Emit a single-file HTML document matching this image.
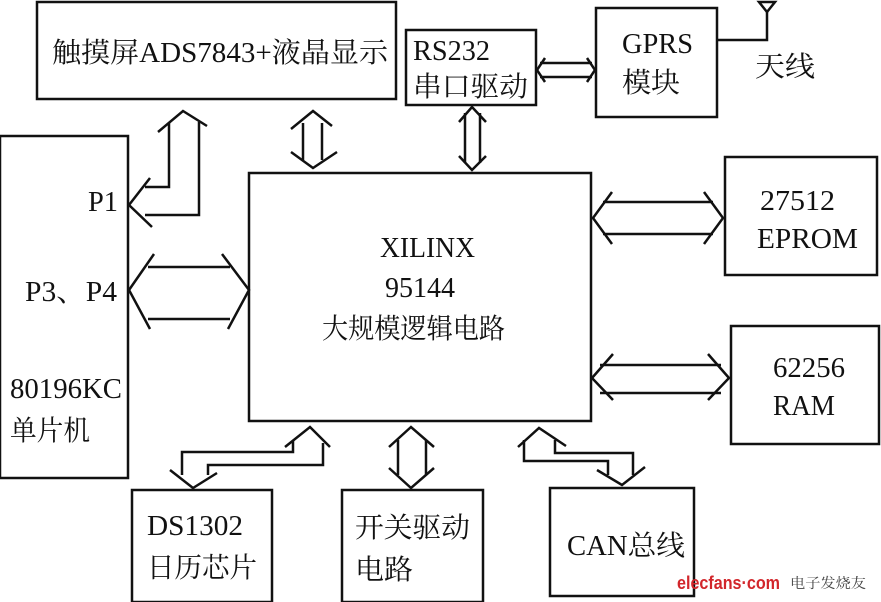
<!DOCTYPE html>
<html><head><meta charset="utf-8"><style>
html,body{margin:0;padding:0;background:#fff;width:881px;height:602px;overflow:hidden}
svg{display:block}
text{font-family:"Liberation Serif","Noto Serif CJK SC",serif;font-size:28px;fill:#111}
</style></head><body>
<svg width="881" height="602" viewBox="0 0 881 602">
<g fill="none" stroke="#111" stroke-width="2.5">
<rect x="37" y="2" width="359" height="97"/>
<rect x="406" y="30" width="130" height="75"/>
<rect x="596" y="8" width="121" height="109"/>
<rect x="0" y="136" width="128" height="342"/>
<rect x="249" y="173" width="342" height="248"/>
<rect x="725" y="157" width="152" height="118"/>
<rect x="731" y="326" width="148" height="118"/>
<rect x="132" y="490" width="140" height="112"/>
<rect x="342" y="490" width="141" height="112"/>
<rect x="550" y="488" width="144" height="108"/>
<polyline points="717,40 767,40 767,10"/>
<polygon points="759,2 775,2 767,12"/>
<polyline points="158,132 183,111 207,126"/>
<polyline points="169,123 169,187 145,187"/>
<polyline points="199,122 199,215 145,215"/>
<polyline points="150,178 129,205 152,227"/>
<polyline points="291,129 313,111 332,126"/>
<polyline points="291,152 313,168 337,152"/>
<line x1="303" y1="123" x2="303" y2="160"/><line x1="322" y1="123" x2="322" y2="160"/>
<polyline points="154,254 129,290 150,329"/>
<polyline points="222,254 249,290 228,329"/>
<line x1="148" y1="267" x2="230" y2="267"/><line x1="148" y1="319" x2="230" y2="319"/>
<polyline points="545,58 537,70 545,82"/>
<polyline points="587,58 595,70 587,82"/>
<line x1="540" y1="63" x2="592" y2="63"/><line x1="540" y1="77" x2="592" y2="77"/>
<polyline points="459,122 472,107 486,122"/>
<polyline points="459,156 472,170 486,156"/>
<line x1="465" y1="113" x2="465" y2="163"/><line x1="480" y1="113" x2="480" y2="163"/>
<polyline points="612,192 593,218 612,244"/>
<polyline points="704,192 723,218 704,244"/>
<line x1="603" y1="202" x2="713" y2="202"/><line x1="603" y1="234" x2="713" y2="234"/>
<polyline points="613,354 592,378 613,400"/>
<polyline points="708,354 729,378 708,400"/>
<line x1="600" y1="365" x2="721" y2="365"/><line x1="600" y1="393" x2="721" y2="393"/>
<polyline points="285,447 310,427 330,447"/>
<polyline points="293,441 293,452 182,452 182,475"/>
<polyline points="323,443 323,465 208,465 208,475"/>
<polyline points="170,470 193,488 217,473"/>
<polyline points="389,447 411,427 434,447"/>
<polyline points="389,468 411,488 434,468"/>
<line x1="398" y1="440" x2="398" y2="475"/><line x1="426" y1="440" x2="426" y2="475"/>
<polyline points="518,447 539,428 566,446"/>
<polyline points="524,440 524,461 608,461 608,475"/>
<polyline points="555,440 555,453 633,453 633,475"/>
<polyline points="597,470 622,485 645,467"/>
</g>
<text x="52" y="62" textLength="336" lengthAdjust="spacingAndGlyphs">触摸屏ADS7843+液晶显示</text>
<text x="413" y="60" textLength="77" lengthAdjust="spacingAndGlyphs">RS232</text>
<text x="413" y="96" textLength="115" lengthAdjust="spacingAndGlyphs">串口驱动</text>
<text x="622" y="53" textLength="71" lengthAdjust="spacingAndGlyphs">GPRS</text>
<text x="622" y="92" textLength="58" lengthAdjust="spacingAndGlyphs">模块</text>
<text x="755" y="76" textLength="60" lengthAdjust="spacingAndGlyphs">天线</text>
<text x="88" y="211" textLength="30" lengthAdjust="spacingAndGlyphs">P1</text>
<text x="25" y="301" textLength="92" lengthAdjust="spacingAndGlyphs">P3、P4</text>
<text x="10" y="398" textLength="112" lengthAdjust="spacingAndGlyphs">80196KC</text>
<text x="10" y="440" textLength="80" lengthAdjust="spacingAndGlyphs">单片机</text>
<text x="380" y="257" textLength="95" lengthAdjust="spacingAndGlyphs">XILINX</text>
<text x="385" y="297" textLength="70" lengthAdjust="spacingAndGlyphs">95144</text>
<text x="322" y="338" textLength="183" lengthAdjust="spacingAndGlyphs">大规模逻辑电路</text>
<text x="760" y="210" textLength="75" lengthAdjust="spacingAndGlyphs">27512</text>
<text x="757" y="248" textLength="101" lengthAdjust="spacingAndGlyphs">EPROM</text>
<text x="773" y="377" textLength="72" lengthAdjust="spacingAndGlyphs">62256</text>
<text x="773" y="415" textLength="62" lengthAdjust="spacingAndGlyphs">RAM</text>
<text x="147" y="535" textLength="96" lengthAdjust="spacingAndGlyphs">DS1302</text>
<text x="147" y="577" textLength="110" lengthAdjust="spacingAndGlyphs">日历芯片</text>
<text x="355" y="537" textLength="115" lengthAdjust="spacingAndGlyphs">开关驱动</text>
<text x="355" y="579" textLength="58" lengthAdjust="spacingAndGlyphs">电路</text>
<text x="567" y="555" textLength="118" lengthAdjust="spacingAndGlyphs">CAN总线</text>
<text x="677" y="589" textLength="103" lengthAdjust="spacingAndGlyphs" style="font-family:'Liberation Sans',sans-serif;font-size:18px;font-weight:bold;fill:#d2262b">elecfans·com</text>
<text x="790" y="588" textLength="76" lengthAdjust="spacingAndGlyphs" style="font-size:14px;fill:#444">电子发烧友</text>
</svg>
</body></html>
